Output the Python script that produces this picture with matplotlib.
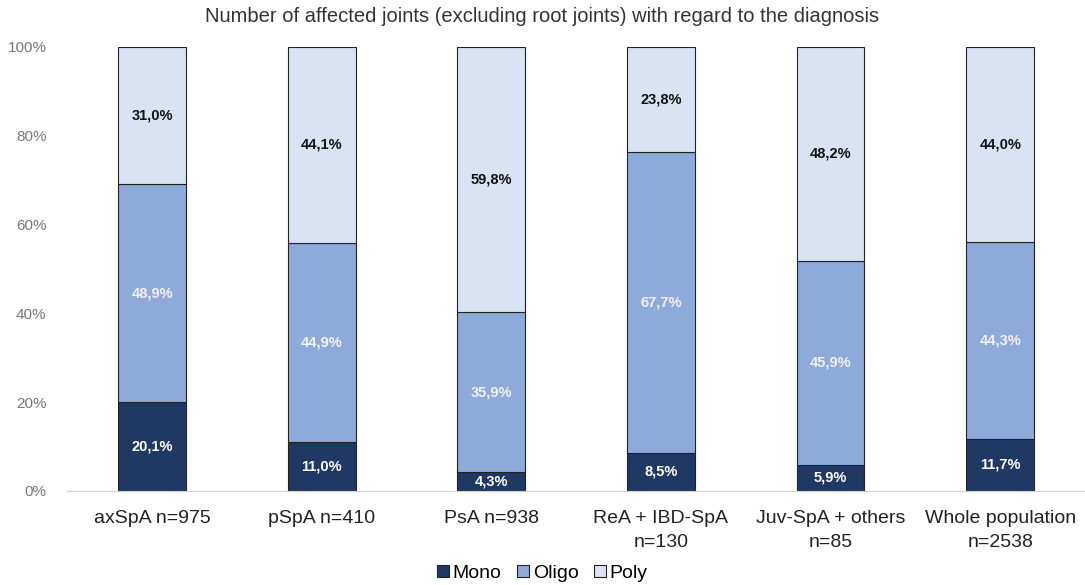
import matplotlib
matplotlib.use('Agg')
import matplotlib.pyplot as plt
import numpy as np

# data
categories = ['axSpA n=975', 'pSpA n=410', 'PsA n=938', 'ReA + IBD-SpA\nn=130',
              'Juv-SpA + others\nn=85', 'Whole population\nn=2538']
mono = [20.1, 11.0, 4.3, 8.5, 5.9, 11.7]
oligo = [48.9, 44.9, 35.9, 67.7, 45.9, 44.3]
poly = [31.0, 44.1, 59.8, 23.8, 48.2, 44.0]

plt.rcParams['font.family'] = ['Liberation Sans', 'DejaVu Sans']

fig = plt.figure(figsize=(10.85, 5.85), dpi=100)
ax = fig.add_axes([0.062, 0.161, 0.938, 0.759])

x = np.arange(len(categories))
w = 0.4
c_mono, c_oligo, c_poly = '#1f3864', '#8eaadb', '#dae3f3'

b1 = ax.bar(x, mono, w, color=c_mono, edgecolor='#222222', linewidth=0.8, label='Mono')
b2 = ax.bar(x, oligo, w, bottom=mono, color=c_oligo, edgecolor='#222222', linewidth=0.8, label='Oligo')
bottom3 = np.array(mono) + np.array(oligo)
b3 = ax.bar(x, poly, w, bottom=bottom3, color=c_poly, edgecolor='#222222', linewidth=0.8, label='Poly')

def fmt(v):
    return f'{v:.1f}%'.replace('.', ',')

for bars, vals, col in [(b1, mono, 'white'), (b2, oligo, '#f2f2f2'), (b3, poly, '#111111')]:
    for r, v in zip(bars, vals):
        ax.text(r.get_x() + r.get_width() / 2, r.get_y() + r.get_height() / 2, fmt(v),
                ha='center', va='center', color=col, fontsize=10.5, fontweight='bold')

ax.set_xlim(-0.5, len(categories) - 0.5)
ax.set_ylim(0, 100)
ax.set_yticks(range(0, 101, 20))
ax.set_yticklabels([f'{t}%' for t in range(0, 101, 20)], color='#777777', fontsize=11)
ax.set_xticks(x)
ax.set_xticklabels(categories, fontsize=14, color='#222222', linespacing=1.55)
ax.tick_params(axis='x', length=0, pad=14)
ax.tick_params(axis='y', length=0, pad=15)

for s in ['top', 'right', 'left']:
    ax.spines[s].set_visible(False)
ax.spines['bottom'].set_color('#d0d0d0')

fig.suptitle('Number of affected joints (excluding root joints) with regard to the diagnosis',
             fontsize=14.5, color='#333333', y=0.988)

fig.legend(loc='lower center', ncol=3, frameon=False, fontsize=14, bbox_to_anchor=(0.5, -0.025),
           handlelength=0.6, handleheight=0.6, handletextpad=0.2, columnspacing=0.8)

plt.savefig('out.png', dpi=100)
